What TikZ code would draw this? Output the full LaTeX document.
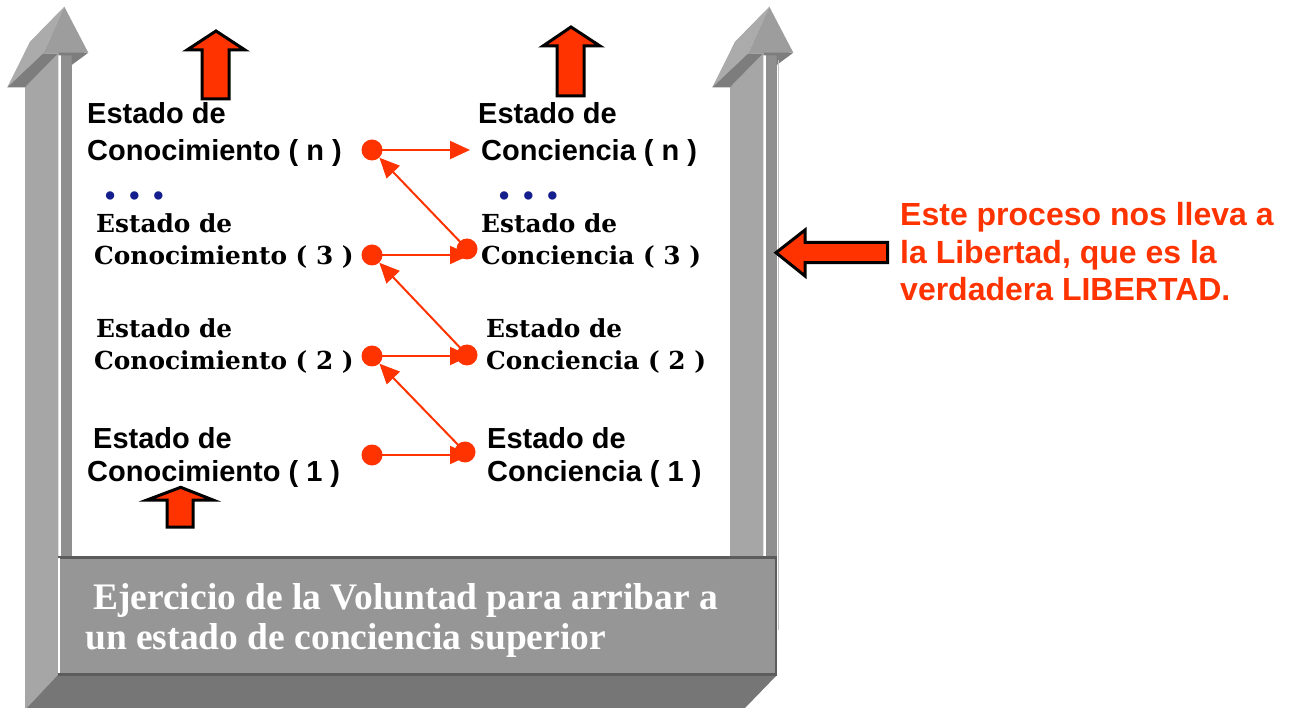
\documentclass[tikz,border=0pt]{standalone}
\usepackage{fontspec}
\usetikzlibrary{arrows.meta}
\newfontfamily\lsans{Liberation Sans}
\newfontfamily\lserif{Liberation Serif}
\newfontfamily\dserif{DejaVu Serif}
\definecolor{redc}{RGB}{255,51,0}
\definecolor{navyc}{RGB}{20,30,140}
\definecolor{pface}{RGB}{166,166,166}
\definecolor{phead}{RGB}{171,171,171}
\definecolor{pheadm}{RGB}{157,157,157}
\definecolor{pside}{RGB}{143,143,143}
\definecolor{pdark}{RGB}{125,125,125}
\definecolor{boxf}{RGB}{150,150,150}
\definecolor{boxb}{RGB}{118,118,118}
\definecolor{boxl}{RGB}{92,92,92}
\tikzset{
  redblock/.style={fill=redc, draw=black, line width=3pt, line join=miter},
  conn/.style={draw=redc, line width=2pt, -{Triangle[length=20pt,width=18pt]}},
  reddot/.style={circle, fill=redc, inner sep=0pt, minimum size=21pt},
  sanslab/.style={font=\lsans\bfseries\fontsize{29}{37}\selectfont, align=left, anchor=base west, inner sep=0pt},
  seriflab/.style={font=\dserif\bfseries\fontsize{24.8}{32}\selectfont, align=left, anchor=base west, inner sep=0pt},
  bluedots/.style={font=\lsans\bfseries\fontsize{29}{37}\selectfont, text=navyc, anchor=base west, inner sep=0pt},
}
\begin{document}
\begin{tikzpicture}[x=1pt,y=-1pt]
\useasboundingbox (0,0) rectangle (1290,708);
% pillars
\foreach \ox/\bot in {0/708,705/675}{
  \begin{scope}[shift={(\ox,0)}]
    \fill[pface] (25,87.3) -- (58.3,53.3) -- (58.3,\bot) -- (25,\bot) -- cycle;
    \fill[pside] (61,52.7) -- (71.7,52.7) -- (71.7,556) -- (61,556) -- cycle;
    \fill[phead] (7.3,87.3) -- (30,41.7) -- (64.3,6.7) -- (43.3,53.3) -- cycle;
    \fill[pheadm] (64.3,6.7) -- (88.3,52.7) -- (43.3,53.3) -- cycle;
    \fill[pdark] (7.3,87.3) -- (43.3,53.3) -- (58.3,53.3) -- (25,87.3) -- cycle;
    \fill[pdark] (58.3,52.7) -- (88.3,52.7) -- (71.7,65) -- (71.7,55.5) -- (58.3,55.5) -- cycle;
  \end{scope}
}
\draw[pface!70!white, line width=1pt] (778,60) -- (778,630);
% bottom box
\fill[boxb] (58,675) -- (777,675) -- (745,708) -- (27,708) -- cycle;
\fill[boxf] (58,556) rectangle (777,675);
\draw[boxl, line width=3pt] (58,557) -- (777,557);
\draw[boxl, line width=3pt] (58,674) -- (777,674);
\draw[boxl, line width=2pt] (776,556) -- (776,675);
\draw[white, line width=1.5pt] (59,558) -- (59,673);
\node[font=\lserif\bfseries\fontsize{37.5}{40}\selectfont, text=white, align=left, anchor=base west, inner sep=0pt] (ejer) at (85,649)
  {\hspace*{8pt}Ejercicio de la Voluntad para arribar a\\un estado de conciencia superior};
% red block arrows
\draw[redblock] (216,31) -- (245,50) -- (229,50) -- (229,99) -- (202,99) -- (202,50) -- (187,50) -- cycle;
\draw[redblock] (571,27) -- (600,46) -- (584,46) -- (584,96) -- (557,96) -- (557,46) -- (543,46) -- cycle;
\draw[redblock] (180.7,487.3) -- (213,500) -- (193,500) -- (193,527) -- (167,527) -- (167,500) -- (147,500) -- cycle;
\draw[redblock] (776,252.7) -- (805,230) -- (805,242.3) -- (887.7,242.3) -- (887.7,262.7) -- (805,262.7) -- (805,276) -- cycle;
% labels
\node[sanslab] (kn) at (87,161) {Estado de\\Conocimiento ( n )};
\node[sanslab] (cn) at (478,161) {Estado de\\\hspace*{3pt}Conciencia ( n )};
\node[seriflab] (k3) at (94,265) {\hspace*{2pt}Estado de\\Conocimiento ( 3 )};
\node[seriflab] (c3) at (481,265) {Estado de\\Conciencia ( 3 )};
\node[seriflab] (k2) at (94,370) {\hspace*{2pt}Estado de\\Conocimiento ( 2 )};
\node[seriflab] (c2) at (486,370) {Estado de\\Conciencia ( 2 )};
\node[sanslab, font=\lsans\bfseries\fontsize{29}{33}\selectfont] (k1) at (87,481.5) {\hspace*{6pt}Estado de\\Conocimiento ( 1 )};
\node[sanslab, font=\lsans\bfseries\fontsize{29}{33}\selectfont] (c1) at (487,481.5) {Estado de\\Conciencia ( 1 )};
\node[bluedots] (dl) at (105,206) {\textbullet\hspace{14pt}\textbullet\hspace{14pt}\textbullet};
\node[bluedots] (dr) at (499,206) {\textbullet\hspace{14pt}\textbullet\hspace{14pt}\textbullet};
\node[font=\lsans\bfseries\fontsize{32}{37.5}\selectfont, text=redc, align=left, anchor=base west, inner sep=0pt] (msg) at (900,301)
  {Este proceso nos lleva a\\la Libertad, que es la\\verdadera LIBERTAD.};
% red dots
\node[reddot] (dkn) at (372,150) {};
\node[reddot] (dk3) at (372,255) {};
\node[reddot] (dk2) at (372,356) {};
\node[reddot] (dk1) at (372,455) {};
\node[reddot] (dc3) at (467,249) {};
\node[reddot] (dc2) at (467,355) {};
\node[reddot] (dc1) at (465,452) {};
\coordinate (tn) at (470,150);
\coordinate (t3) at (470,255);
\coordinate (t2) at (470,356);
\coordinate (t1) at (470,455);
% connectors
\draw[conn] (dkn.center) -- (tn);
\draw[conn] (dk3.center) -- (t3);
\draw[conn] (dk2.center) -- (t2);
\draw[conn] (dk1.center) -- (t1);
\draw[conn] (dc3.center) -- (dkn);
\draw[conn] (dc2.center) -- (dk3);
\draw[conn] (dc1.center) -- (dk2);
\end{tikzpicture}
\end{document}
